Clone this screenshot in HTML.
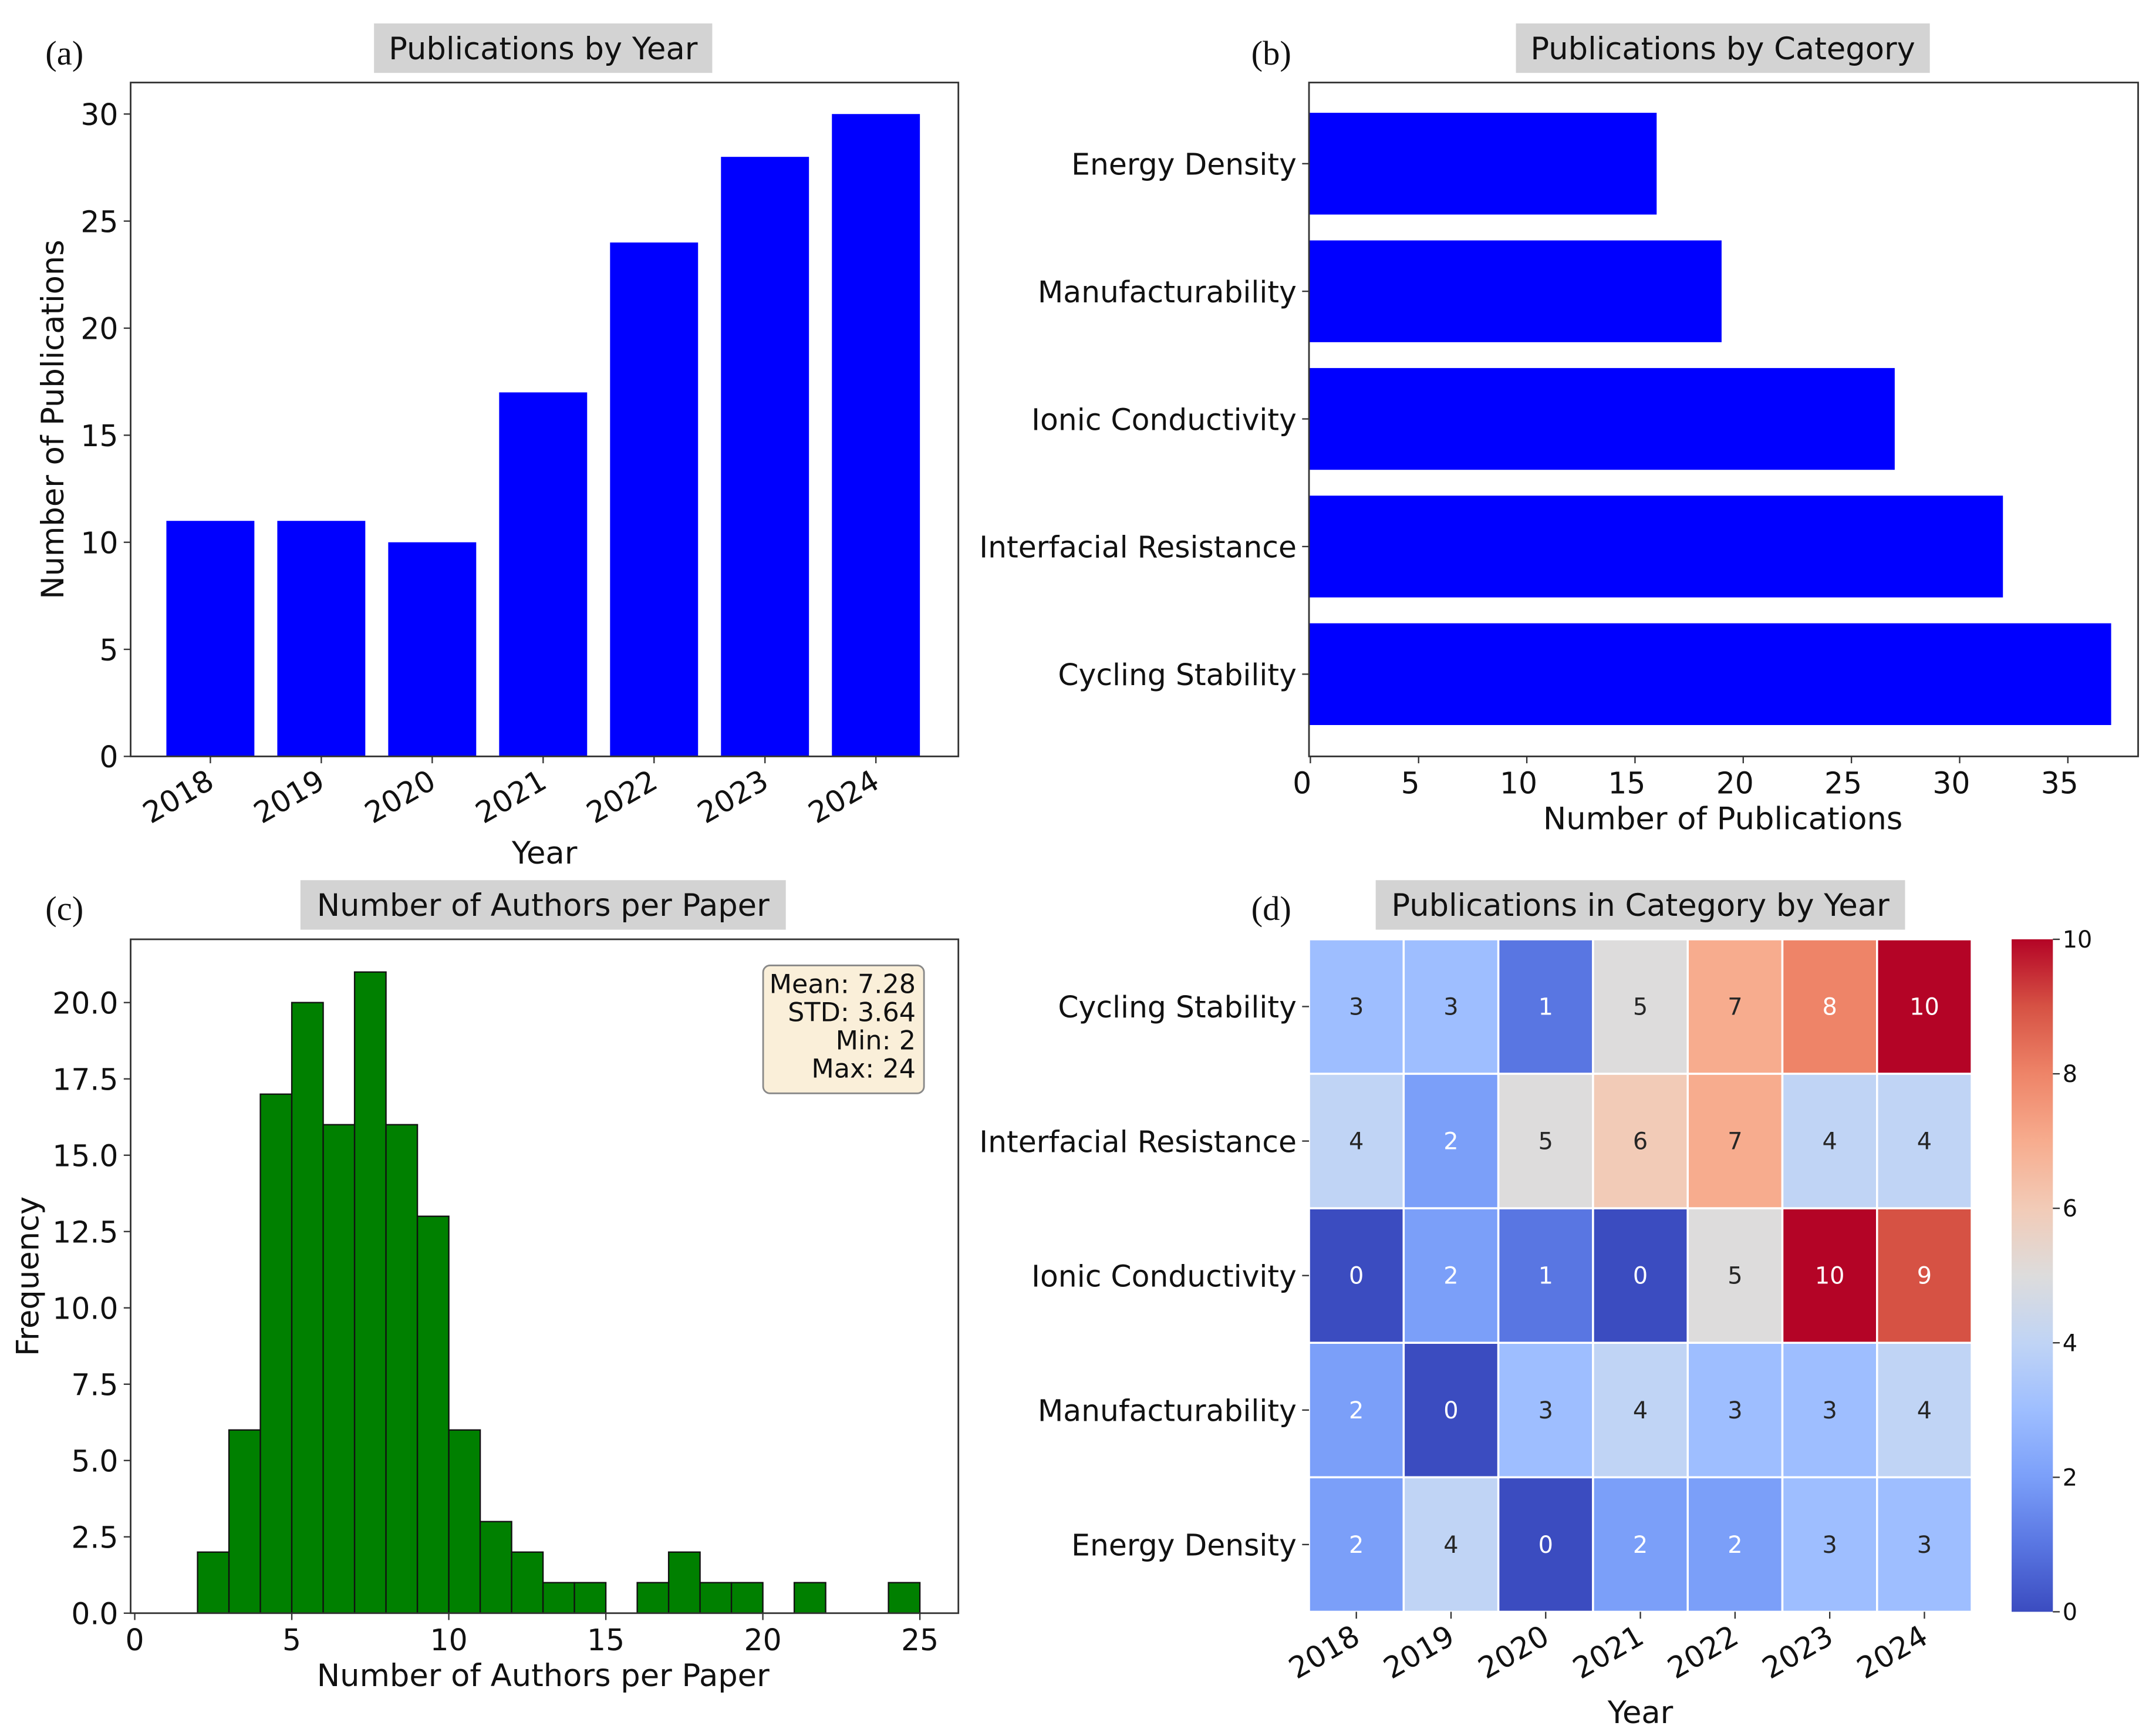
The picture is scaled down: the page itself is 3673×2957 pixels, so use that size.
<!DOCTYPE html>
<html><head><meta charset="utf-8"><style>
html,body{margin:0;padding:0;background:#fff;}
svg{display:block;}
text{font-family:"DejaVu Sans","Liberation Sans",sans-serif;fill:#111;}
.pl{font-family:"Liberation Serif",serif;}
</style></head><body>
<svg id="fig" width="3673" height="2957" viewBox="0 0 1568 1262.3" xmlns="http://www.w3.org/2000/svg"></svg>
<script>
// ---- data ----
const years = ["2018","2019","2020","2021","2022","2023","2024"];
const pubsByYear = [11,11,10,17,24,28,30];
const yTicksA = [0,5,10,15,20,25,30];
const categoriesB = ["Energy Density","Manufacturability","Ionic Conductivity","Interfacial Resistance","Cycling Stability"];
const pubsByCategory = [16,19,27,32,37];
const xTicksB = [0,5,10,15,20,25,30,35];
const histBinStart = [1,2,3,4,5,6,7,8,9,10,11,12,13,14,15,16,17,18,19,20,21,22,23,24];
const histCounts = [0,2,6,17,20,16,21,16,13,6,3,2,1,1,0,1,2,1,1,0,1,0,0,1];
const xTicksC = [0,5,10,15,20,25];
const yTicksC = ["0.0","2.5","5.0","7.5","10.0","12.5","15.0","17.5","20.0"];
const statsLines = ["Mean: 7.28","STD: 3.64","Min: 2","Max: 24"];
const heatRows = ["Cycling Stability","Interfacial Resistance","Ionic Conductivity","Manufacturability","Energy Density"];
const heatCycling = [3,3,1,5,7,8,10];
const heatInterfacial = [4,2,5,6,7,4,4];
const heatIonic = [0,2,1,0,5,10,9];
const heatManuf = [2,0,3,4,3,3,4];
const heatEnergy = [2,4,0,2,2,3,3];
const cbarTicks = [0,2,4,6,8,10];

const NS="http://www.w3.org/2000/svg";
const svg=document.getElementById('fig');
const TF=21.5, LF=22.5;
function mk(tag,attrs,parent,txt){const e=document.createElementNS(NS,tag);for(const k in attrs)e.setAttribute(k,attrs[k]);if(txt!==undefined)e.textContent=txt;(parent||svg).appendChild(e);return e;}
function titleBox(cx,y,w,label,name){
  const g=mk('g',{});
  
  
  mk('rect',{x:cx-w/2,y:y,width:w,height:36,fill:'#d3d3d3'},g);
  mk('text',{x:cx,y:y+26,'font-size':22.5,'text-anchor':'middle'},g,label);
}
function panelLabel(x,y,t,name){const e=mk('text',{x:x,y:y,'font-size':25,class:'pl'},svg,t);
  
  }
function frame(x0,y0,x1,y1,name){const e=mk('rect',{x:x0,y:y0,width:x1-x0,height:y1-y0,fill:'none',stroke:'#333','stroke-width':1.2});
  
  }

// ---- Panel A ----
(function(){
  const L=95,R=697,T=60,B=550;
  const yS=v=>B-v*15.57;
  const xS=i=>153+i*80.67;
  panelLabel(33,47,'(a)','panel-label-a');
  titleBox(395,17,246,'Publications by Year','title-a');
  const g=mk('g',{});
  
  
  pubsByYear.forEach((v,i)=>{const r=mk('rect',{x:xS(i)-32,y:yS(v),width:64,height:v*15.57,fill:'#0000ff'},g);
    
    });
  frame(L,T,R,B,'axes-a');
  yTicksA.forEach(t=>{mk('line',{x1:L-5,x2:L,y1:yS(t),y2:yS(t),stroke:'#333'});
    const e=mk('text',{x:L-9,y:yS(t)+8,'font-size':TF,'text-anchor':'end'},svg,t);
    
    });
  years.forEach((y,i)=>{mk('line',{x1:xS(i),x2:xS(i),y1:B,y2:B+5,stroke:'#333'});
    const e=mk('text',{x:xS(i)+4,y:B+22,'font-size':TF,'text-anchor':'end',transform:`rotate(-30 ${xS(i)+4} ${B+22})`},svg,y);
    
    });
  const xl=mk('text',{x:396,y:628,'font-size':LF,'text-anchor':'middle'},svg,'Year');
  
  
  const yl=mk('text',{x:46,y:305,'font-size':LF,'text-anchor':'middle',transform:'rotate(-90 46 305)'},svg,'Number of Publications');
  
  
})();

// ---- Panel B ----
(function(){
  const L=952,R=1555,T=60,B=550;
  const xS=v=>953+v*15.74;
  const yS=i=>119+i*92.8;
  panelLabel(910,47,'(b)','panel-label-b');
  titleBox(1253,17,301,'Publications by Category','title-b');
  pubsByCategory.forEach((v,i)=>{const r=mk('rect',{x:L,y:yS(i)-37,width:xS(v)-L,height:74,fill:'#0000ff'});
    
    });
  frame(L,T,R,B,'axes-b');
  categoriesB.forEach((c,i)=>{mk('line',{x1:L-5,x2:L,y1:yS(i),y2:yS(i),stroke:'#333'});
    const e=mk('text',{x:L-9,y:yS(i)+8,'font-size':TF,'text-anchor':'end'},svg,c);
    
    });
  xTicksB.forEach(t=>{mk('line',{x1:xS(t),x2:xS(t),y1:B,y2:B+5,stroke:'#333'});
    const e=mk('text',{x:xS(t)-6,y:B+27,'font-size':TF,'text-anchor':'middle'},svg,t);
    
    });
  const xl=mk('text',{x:1253,y:603,'font-size':LF,'text-anchor':'middle'},svg,'Number of Publications');
  
  
})();

// ---- Panel C ----
(function(){
  const L=95,R=697,T=683,B=1173;
  const xS=v=>98+v*22.84;
  const yS=v=>B-v*22.2;
  panelLabel(33,669,'(c)','panel-label-c');
  titleBox(395,640,353,'Number of Authors per Paper','title-c');
  histCounts.forEach((v,i)=>{const r=mk('rect',{x:xS(histBinStart[i]),y:yS(v),width:22.84,height:v*22.2,fill:'#008000',stroke:'#111','stroke-width':1});
    
    });
  frame(L,T,R,B,'axes-c');
  yTicksC.forEach(t=>{const v=parseFloat(t);mk('line',{x1:L-5,x2:L,y1:yS(v),y2:yS(v),stroke:'#333'});
    const e=mk('text',{x:L-9,y:yS(v)+8,'font-size':TF,'text-anchor':'end'},svg,t);
    
    });
  xTicksC.forEach(t=>{mk('line',{x1:xS(t),x2:xS(t),y1:B,y2:B+5,stroke:'#333'});
    const e=mk('text',{x:xS(t),y:B+27,'font-size':TF,'text-anchor':'middle'},svg,t);
    
    });
  const box=mk('g',{});
  
  
  mk('rect',{x:555,y:702,width:117,height:93,rx:5,fill:'#faefd9',stroke:'#888','stroke-width':1.2},box);
  statsLines.forEach((s,i)=>mk('text',{x:666,y:722+i*20.5,'font-size':19,'text-anchor':'end'},box,s));
  const xl=mk('text',{x:395,y:1226,'font-size':LF,'text-anchor':'middle'},svg,'Number of Authors per Paper');
  
  
  const yl=mk('text',{x:28,y:928,'font-size':LF,'text-anchor':'middle',transform:'rotate(-90 28 928)'},svg,'Frequency');
  
  
})();

// ---- Panel D ----
(function(){
  const L=952,R=1434,T=683,B=1172;
  const cw=(R-L)/7, ch=(B-T)/5;
  const stops=[[59,76,192],[89,118,226],[123,159,249],[158,190,255],[192,212,245],[221,220,220],[242,203,183],[247,172,142],[238,132,104],[214,82,68],[180,4,38]];
  const col=v=>{const c=stops[Math.max(0,Math.min(10,Math.round(v)))];return `rgb(${c[0]},${c[1]},${c[2]})`;};
  const data=[heatCycling,heatInterfacial,heatIonic,heatManuf,heatEnergy];
  panelLabel(910,669,'(d)','panel-label-d');
  titleBox(1193,640,385,'Publications in Category by Year','title-d');
  data.forEach((row,r)=>row.forEach((v,c)=>{
    const x=L+c*cw,y=T+r*ch;
    const cell=mk('rect',{x:x,y:y,width:cw,height:ch,fill:col(v),stroke:'#fff','stroke-width':1.5});
    
    
    const light=(v<=2||v>=8);
    const t=mk('text',{x:x+cw/2,y:y+ch/2+6,'font-size':17,'text-anchor':'middle',style:'fill:'+(light?'#fff':'#262626')},svg,v);
    
    
  }));
  heatRows.forEach((n,r)=>{const y=T+(r+0.5)*ch;mk('line',{x1:L-5,x2:L,y1:y,y2:y,stroke:'#333'});
    const e=mk('text',{x:L-9,y:y+8,'font-size':TF,'text-anchor':'end'},svg,n);
    
    });
  years.forEach((yr,c)=>{const x=L+(c+0.5)*cw;mk('line',{x1:x,x2:x,y1:B,y2:B+5,stroke:'#333'});
    const e=mk('text',{x:x+4,y:B+22,'font-size':TF,'text-anchor':'end',transform:`rotate(-30 ${x+4} ${B+22})`},svg,yr);
    
    });
  const xl=mk('text',{x:1193,y:1253,'font-size':LF,'text-anchor':'middle'},svg,'Year');
  
  
  // colorbar
  const defs=mk('defs',{});
  const lg=mk('linearGradient',{id:'cw',x1:0,y1:1,x2:0,y2:0},defs);
  stops.forEach((c,i)=>mk('stop',{offset:(i*10)+'%','stop-color':`rgb(${c[0]},${c[1]},${c[2]})`},lg));
  const cb=mk('rect',{x:1463,y:T,width:30,height:B-T,fill:'url(#cw)'});
  
  
  cbarTicks.forEach(t=>{const y=B-t/10*(B-T);mk('line',{x1:1493,x2:1498,y1:y,y2:y,stroke:'#333'});
    const e=mk('text',{x:1500,y:y+6,'font-size':17},svg,t);
    
    });
})();
</script>
</body></html>
